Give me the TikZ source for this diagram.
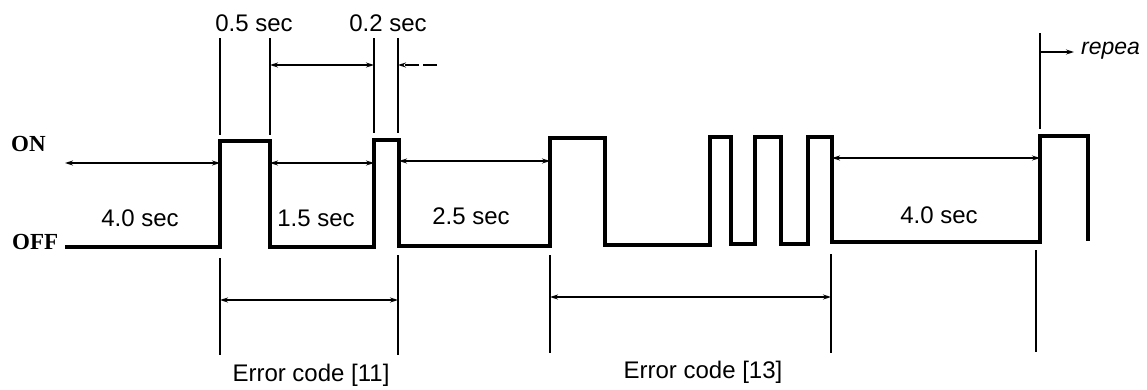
\documentclass[tikz,border=0pt]{standalone}
\usepackage{fontspec}
\setmainfont{Liberation Sans}
\newfontfamily\serifon{Liberation Serif}
\usetikzlibrary{arrows.meta}
\begin{document}
\begin{tikzpicture}[x=1pt,y=-1pt,
  wave/.style={line width=3.4pt, line join=miter, line cap=butt},
  guide/.style={line width=1.4pt},
  dim/.style={line width=1.2pt, {Stealth[length=8pt,width=5pt]}-{Stealth[length=8pt,width=5pt]}},
  onearrow/.style={line width=1.2pt, -{Stealth[length=8pt,width=5pt]}},
  lbl/.style={font=\fontsize{24}{27}\selectfont, inner sep=0pt},
  lvl/.style={font=\serifon\bfseries\fontsize{23}{26}\selectfont, inner sep=0pt}]
\useasboundingbox (0,0) rectangle (1147,389);
\clip (0,0) rectangle (1147,389);

% ---- waveform ----
\draw[wave] (65,247) -- (220,247) -- (220,141) -- (270,141) -- (270,247)
  -- (374,247) -- (374,140) -- (399,140) -- (399,246)
  -- (550,246) -- (550,138) -- (605,138) -- (605,245)
  -- (710,245) -- (710,137) -- (731,137) -- (731,244)
  -- (755,244) -- (755,137) -- (781,137) -- (781,244)
  -- (808,244) -- (808,137) -- (832,137) -- (832,242)
  -- (1040,242) -- (1040,136) -- (1088,136) -- (1088,241);

% ---- guide lines (top) ----
\coordinate (u1t) at (220,38);  \coordinate (u1b) at (220,135);
\coordinate (u2t) at (270,38);  \coordinate (u2b) at (270,135);
\coordinate (u3t) at (374,38);  \coordinate (u3b) at (374,133);
\coordinate (u4t) at (398,38);  \coordinate (u4b) at (398,133);
\coordinate (u5t) at (1040,33); \coordinate (u5b) at (1040,129);
\foreach \i in {1,...,5} \draw[guide] (u\i t) -- (u\i b);

% ---- guide lines (bottom) ----
\coordinate (l1t) at (220,258); \coordinate (l1b) at (220,355);
\coordinate (l2t) at (398,255); \coordinate (l2b) at (398,355);
\coordinate (l3t) at (550,255); \coordinate (l3b) at (550,353);
\coordinate (l4t) at (831,254); \coordinate (l4b) at (831,353);
\coordinate (l5t) at (1036,250); \coordinate (l5b) at (1036,352);
\foreach \i in {1,...,5} \draw[guide] (l\i t) -- (l\i b);

% ---- dimension arrows ----
\coordinate (a1) at (270,65);  \coordinate (a2) at (374,65);
\draw[dim] (a1) -- (a2);
\coordinate (b1) at (398,65);  \coordinate (b2) at (437,65);
\draw[onearrow, dash pattern=on 14pt off 4pt] (b2) -- (b1);

\coordinate (c1) at (65,163);  \coordinate (c2) at (220,163);
\draw[dim] (c1) -- (c2);
\coordinate (d1) at (270,163); \coordinate (d2) at (374,163);
\draw[dim] (d1) -- (d2);
\coordinate (e1) at (399,161); \coordinate (e2) at (550,161);
\draw[dim] (e1) -- (e2);
\coordinate (f1) at (832,158); \coordinate (f2) at (1040,158);
\draw[dim] (f1) -- (f2);

\coordinate (g1) at (220,300); \coordinate (g2) at (398,300);
\draw[dim] (g1) -- (g2);
\coordinate (h1) at (550,297); \coordinate (h2) at (831,297);
\draw[dim] (h1) -- (h2);

\coordinate (r1) at (1040,52); \coordinate (r2) at (1074,52);
\draw[onearrow] (r1) -- (r2);

% ---- labels ----
\node[lbl] (t05) at (254,23) {0.5 sec};
\node[lbl] (t02) at (388,23) {0.2 sec};
\node[lvl, anchor=west] (on) at (11,144) {ON};
\node[lvl, anchor=west] (off) at (12,242) {OFF};
\node[lbl] (s40a) at (140,218) {4.0 sec};
\node[lbl] (s15) at (316,218) {1.5 sec};
\node[lbl] (s25) at (471,216) {2.5 sec};
\node[lbl] (s40b) at (939,215) {4.0 sec};
\node[lbl] (e11) at (311,375) {Error code [11]};
\node[lbl] (e13) at (703,372) {Error code [13]};
\node[font=\itshape\fontsize{23}{26}\selectfont, inner sep=0pt, anchor=west] (rep) at (1081,51) {repea};
\end{tikzpicture}
\end{document}
